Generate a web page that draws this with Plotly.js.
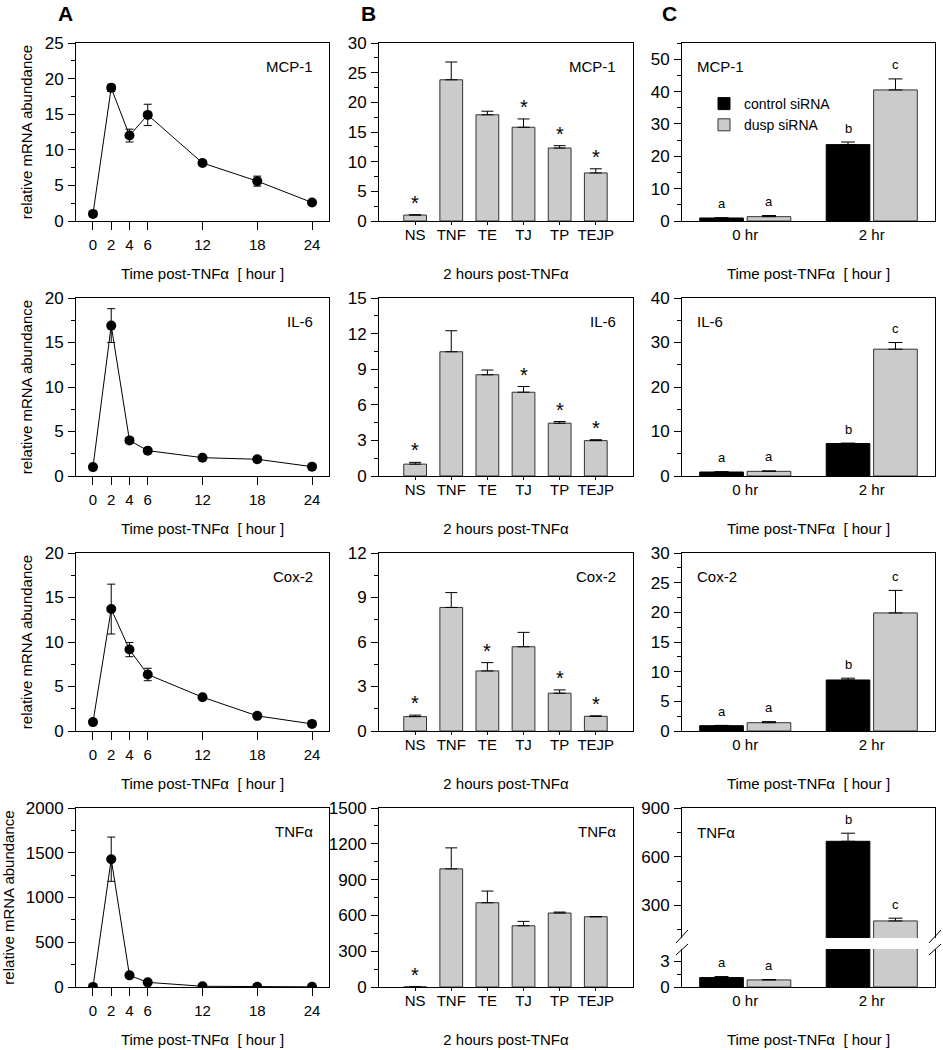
<!DOCTYPE html>
<html>
<head>
<meta charset="utf-8">
<script src="https://cdn.plot.ly/plotly-3.0.1.min.js"></script>
<style>html,body{margin:0;padding:0;background:#fff}#chart{width:943px;height:1050px}</style>
</head>
<body>
<div id="chart"></div>
<script>
// ---------------- data ----------------
const hours = [0, 2, 4, 6, 12, 18, 24];
const hourTicks = [0, 2, 4, 6, 12, 18, 24];

const A_MCP1 = [1.0, 18.7, 12.0, 14.9, 8.15, 5.6, 2.6];
const A_MCP1_err = [0.1, 0.5, 0.9, 1.5, 0.25, 0.7, 0.2];
const A_IL6 = [1.0, 16.9, 4.0, 2.85, 2.06, 1.88, 1.05];
const A_IL6_err = [0.1, 1.9, 0.3, 0.2, 0.15, 0.3, 0.1];
const A_COX2 = [1.0, 13.7, 9.15, 6.35, 3.8, 1.7, 0.8];
const A_COX2_err = [0.1, 2.8, 0.8, 0.7, 0.2, 0.2, 0.1];
const A_TNF = [1, 1428, 130, 52, 8, 3, 2];
const A_TNF_err = [1, 247, 15, 8, 2, 1, 1];

const treatments = ['NS', 'TNF', 'TE', 'TJ', 'TP', 'TEJP'];
const B_MCP1 = [1.0, 23.8, 17.9, 15.8, 12.3, 8.1];
const B_MCP1_err = [0.05, 3.0, 0.6, 1.4, 0.4, 0.7];
const B_MCP1_sig = [1, 0, 0, 1, 1, 1];
const B_IL6 = [1.0, 10.47, 8.53, 7.06, 4.45, 2.98];
const B_IL6_err = [0.15, 1.77, 0.4, 0.48, 0.14, 0.08];
const B_IL6_sig = [1, 0, 0, 1, 1, 1];
const B_COX2 = [0.97, 8.33, 4.05, 5.68, 2.55, 0.99];
const B_COX2_err = [0.1, 1.0, 0.56, 0.97, 0.22, 0.03];
const B_COX2_sig = [1, 0, 1, 0, 1, 1];
const B_TNF = [1, 990, 706, 513, 620, 589];
const B_TNF_err = [0, 176, 98, 37, 8, 0];
const B_TNF_sig = [1, 0, 0, 0, 0, 0];

const groups = ['0 hr', '2 hr'];
const C_MCP1_ctrl = [0.93, 23.6];
const C_MCP1_ctrl_err = [0.05, 0.8];
const C_MCP1_dusp = [1.34, 40.5];
const C_MCP1_dusp_err = [0.35, 3.4];
const C_IL6_ctrl = [0.9, 7.3];
const C_IL6_ctrl_err = [0.05, 0.1];
const C_IL6_dusp = [1.05, 28.5];
const C_IL6_dusp_err = [0.1, 1.5];
const C_COX2_ctrl = [0.9, 8.6];
const C_COX2_ctrl_err = [0.05, 0.3];
const C_COX2_dusp = [1.4, 19.9];
const C_COX2_dusp_err = [0.18, 3.8];
const C_TNF_ctrl = [1.09, 695];
const C_TNF_ctrl_err = [0.12, 50];
const C_TNF_dusp = [0.82, 205];
const C_TNF_dusp_err = [0.03, 17];
const C_letters_ctrl = ['a', 'b'];
const C_letters_dusp = ['a', 'c'];

const genes = ['MCP-1', 'IL-6', 'Cox-2', 'TNF\u03b1'];

// ---------------- layout helpers ----------------
const W = 943, H = 1050;
const FONT = 'Arial, "Liberation Sans", sans-serif';
const GRAY = '#cbcbcb';
const colX = [[76, 329], [379, 633], [682, 935]];
const rowY = [[43, 221], [298, 476], [553, 731], [808, 987]];
const xd = (l, r) => [l / W, r / W];
const yd = (t, b) => [1 - b / H, 1 - t / H];

const timeTitle = 'Time post-TNF\u03b1\u00a0 [ hour ]';
const twoHTitle = '2 hours post-TNF\u03b1';

const layout = {
  width: W, height: H,
  margin: {l: 0, r: 0, t: 0, b: 0},
  paper_bgcolor: '#fff', plot_bgcolor: '#fff',
  font: {family: FONT, size: 14, color: '#000'},
  showlegend: true,
  legend: {x: 704 / W, y: 1 - 88 / H, xanchor: 'left', yanchor: 'top',
           bgcolor: 'rgba(0,0,0,0)', font: {size: 14}, tracegroupgap: 0},
  annotations: [], shapes: []
};
const traces = [];

function yAxis(k, dom, range, dtick, minor, extra) {
  layout['yaxis' + k] = Object.assign({
    domain: dom, range: range, dtick: dtick, tick0: 0,
    anchor: 'x' + k,
    showline: true, linecolor: '#000', linewidth: 1, mirror: true,
    ticks: 'outside', ticklen: 7, tickcolor: '#000', tickwidth: 1,
    minor: {dtick: minor, ticks: 'outside', ticklen: 4, tickcolor: '#000'},
    showgrid: false, zeroline: false, fixedrange: true,
    tickfont: {size: 17}, ticklabelstandoff: 1
  }, extra || {});
}
function xAxis(k, dom, extra) {
  layout['xaxis' + k] = Object.assign({
    domain: dom, anchor: 'y' + k,
    showline: true, linecolor: '#000', linewidth: 1, mirror: true,
    ticks: 'outside', tickcolor: '#000', tickwidth: 1,
    showgrid: false, zeroline: false, fixedrange: true,
    tickfont: {size: 15}
  }, extra || {});
}
function geneLabel(k, text, x, y, anchor) {
  layout.annotations.push({xref: 'x' + k + ' domain', yref: 'y' + k + ' domain',
    x: x, y: y, xanchor: anchor, yanchor: 'middle', text: text, showarrow: false,
    font: {size: 15}});
}

// ---------------- column A ----------------
const aData = [[A_MCP1, A_MCP1_err, [0, 25], 5, 2.5],
               [A_IL6, A_IL6_err, [0, 20], 5, 2.5],
               [A_COX2, A_COX2_err, [0, 20], 5, 2.5],
               [A_TNF, A_TNF_err, [0, 2000], 500, 250]];
aData.forEach((d, r) => {
  const k = r * 3 + 1;
  traces.push({type: 'scatter', mode: 'lines+markers', x: hours, y: d[0],
    xaxis: 'x' + k, yaxis: 'y' + k, showlegend: false,
    line: {color: '#000', width: 1}, marker: {color: '#000', size: 10},
    error_y: {type: 'data', array: d[1], visible: true, color: '#000', thickness: 1, width: 4}});
  xAxis(k, xd(...colX[0]), {range: [-1.86, 25.86], tickvals: hourTicks, ticklen: 8,
    ticklabelstandoff: 2, title: {text: timeTitle, font: {size: 15}, standoff: 16}});
  yAxis(k, yd(...rowY[r]), d[2], d[3], d[4],
    {title: {text: 'relative mRNA abundance', font: {size: 15}, standoff: 8}});
  geneLabel(k, genes[r], 0.945, 0.87, 'right');
});

// ---------------- column B ----------------
const bData = [[B_MCP1, B_MCP1_err, B_MCP1_sig, [0, 30], 5, 2.5],
               [B_IL6, B_IL6_err, B_IL6_sig, [0, 15], 3, 1.5],
               [B_COX2, B_COX2_err, B_COX2_sig, [0, 12], 3, 1.5],
               [B_TNF, B_TNF_err, B_TNF_sig, [0, 1500], 300, 150]];
bData.forEach((d, r) => {
  const k = r * 3 + 2;
  traces.push({type: 'bar', x: treatments, y: d[0], width: 0.63,
    xaxis: 'x' + k, yaxis: 'y' + k, showlegend: false,
    marker: {color: GRAY, line: {color: '#333', width: 1}},
    error_y: {type: 'data', symmetric: false, array: d[1], arrayminus: d[1].map(() => 0),
      visible: true, color: '#000', thickness: 1, width: 6}});
  xAxis(k, xd(...colX[1]), {type: 'category', range: [-1, 6.03], ticklen: 3,
    ticklabelstandoff: -3, title: {text: twoHTitle, font: {size: 15}, standoff: 26}});
  yAxis(k, yd(...rowY[r]), d[3], d[4], d[5]);
  geneLabel(k, genes[r], 0.94, 0.87, 'right');
  d[2].forEach((s, i) => {
    if (s) layout.annotations.push({xref: 'x' + k, yref: 'y' + k, x: treatments[i],
      y: d[0][i] + d[1][i], yanchor: 'middle', yshift: 12, text: '*', showarrow: false,
      font: {size: 20}});
  });
});

// ---------------- column C ----------------
const BW = 0.345, OFF_C = -0.36, OFF_D = 0.015;
function cBars(k, ctrl, ctrlErr, dusp, duspErr, legend) {
  traces.push({type: 'bar', name: 'control siRNA', x: groups, y: ctrl, width: BW, offset: OFF_C,
    xaxis: 'x' + k, yaxis: 'y' + k, showlegend: legend, legendgroup: 'ctrl',
    marker: {color: '#000', line: {color: '#000', width: 1}},
    error_y: {type: 'data', symmetric: false, array: ctrlErr, arrayminus: ctrlErr.map(() => 0),
      visible: true, color: '#000', thickness: 1, width: 7}});
  traces.push({type: 'bar', name: 'dusp siRNA', x: groups, y: dusp, width: BW, offset: OFF_D,
    xaxis: 'x' + k, yaxis: 'y' + k, showlegend: legend, legendgroup: 'dusp',
    marker: {color: GRAY, line: {color: '#333', width: 1}},
    error_y: {type: 'data', symmetric: false, array: duspErr, arrayminus: duspErr.map(() => 0),
      visible: true, color: '#000', thickness: 1, width: 7}});
}
function cLetters(k, ctrl, ctrlErr, dusp, duspErr, idx) {
  idx.forEach(i => {
    layout.annotations.push({xref: 'x' + k, yref: 'y' + k, x: i + OFF_C + BW / 2,
      y: ctrl[i] + ctrlErr[i], yanchor: 'middle', yshift: 14, text: C_letters_ctrl[i],
      showarrow: false, font: {size: 13}});
    layout.annotations.push({xref: 'x' + k, yref: 'y' + k, x: i + OFF_D + BW / 2,
      y: dusp[i] + duspErr[i], yanchor: 'middle', yshift: 14, text: C_letters_dusp[i],
      showarrow: false, font: {size: 13}});
  });
}
const cData = [[C_MCP1_ctrl, C_MCP1_ctrl_err, C_MCP1_dusp, C_MCP1_dusp_err, [0, 55], 10, 5],
               [C_IL6_ctrl, C_IL6_ctrl_err, C_IL6_dusp, C_IL6_dusp_err, [0, 40], 10, 5],
               [C_COX2_ctrl, C_COX2_ctrl_err, C_COX2_dusp, C_COX2_dusp_err, [0, 30], 5, 2.5]];
cData.forEach((d, r) => {
  const k = r * 3 + 3;
  cBars(k, d[0], d[1], d[2], d[3], r === 0);
  xAxis(k, xd(...colX[2]), {type: 'category', range: [-0.5, 1.5], ticks: '',
    title: {text: timeTitle, font: {size: 15}, standoff: 26}});
  yAxis(k, yd(...rowY[r]), d[4], d[5], d[6]);
  geneLabel(k, genes[r], 0.05, 0.87, 'left');
  cLetters(k, d[0], d[1], d[2], d[3], [0, 1]);
});

// TNF-alpha, broken axis: upper (12) and lower (13) segments
cBars(12, C_TNF_ctrl, C_TNF_ctrl_err, C_TNF_dusp, C_TNF_dusp_err, false);
cBars(13, C_TNF_ctrl, C_TNF_ctrl_err, C_TNF_dusp, C_TNF_dusp_err, false);
xAxis(12, xd(...colX[2]), {type: 'category', range: [-0.5, 1.5], side: 'top', mirror: false,
  ticks: '', showticklabels: false});
yAxis(12, yd(808, 938), [100, 900], 300, 150);
xAxis(13, xd(...colX[2]), {type: 'category', range: [-0.5, 1.5], mirror: false, ticks: '',
  title: {text: timeTitle, font: {size: 15}, standoff: 26}});
yAxis(13, yd(949, 987), [0, 4.4], 3, 1.5);
geneLabel(12, genes[3], 0.05, 0.81, 'left');
cLetters(13, C_TNF_ctrl, C_TNF_ctrl_err, C_TNF_dusp, C_TNF_dusp_err, [0]);
cLetters(12, C_TNF_ctrl, C_TNF_ctrl_err, C_TNF_dusp, C_TNF_dusp_err, [1]);

// axis-break marks
[[682], [935]].forEach(([px]) => {
  [[930, 943], [944, 955]].forEach(([t, b]) => {
    layout.shapes.push({type: 'line', xref: 'paper', yref: 'paper',
      x0: (px - 6) / W, x1: (px + 6) / W, y0: 1 - b / H, y1: 1 - t / H,
      line: {color: '#000', width: 1}});
  });
});

// panel letters
[['A', 65], ['B', 368], ['C', 669]].forEach(([t, x]) => {
  layout.annotations.push({xref: 'paper', yref: 'paper', x: x / W, y: 1 - 14 / H,
    xanchor: 'center', yanchor: 'middle', text: '<b>' + t + '</b>', showarrow: false,
    font: {size: 21}});
});

Plotly.newPlot('chart', traces, layout, {displayModeBar: false, staticPlot: true});
</script>
</body>
</html>
